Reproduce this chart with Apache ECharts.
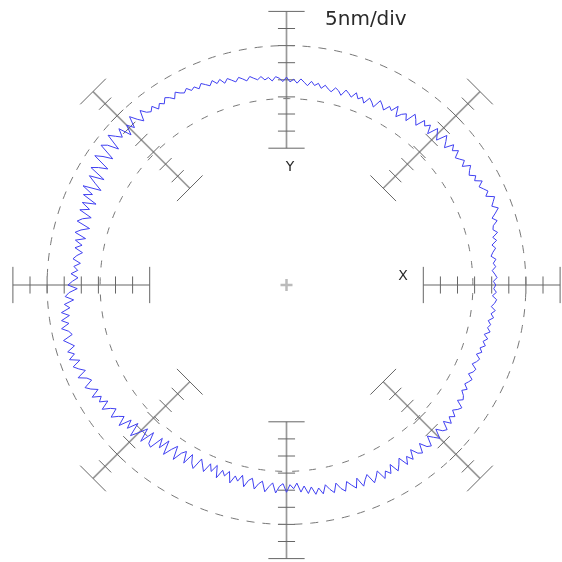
<!DOCTYPE html>
<html>
<head>
<meta charset="utf-8">
<script src="https://cdn.jsdelivr.net/npm/echarts@6/dist/echarts.min.js"></script>
<style>html,body{margin:0;padding:0;background:#fff}#c{width:562px;height:562px}</style>
</head>
<body>
<div id="c"></div>
<script>
// ---- data ----
const scaleLabel = '5nm/div';
const axisNames = ['X', 'Y'];
const centerRadiusNm = 60;              // radius at the centre tick of every scale
const scaleAngles = [0, 45, 90, 135, 180, 225, 270, 315];
const scaleTicks = [40, 45, 50, 55, 60, 65, 70, 75, 80];
const refCircles = [70, 54.5];          // dashed reference circles (nm)
// radial deviation of the profile (nm) from centreRadiusNm, one value per degree (0..359, CCW from +X)
const traceDev = [
  1.2, 0.5, 1.6, 1.0, 0.3, 1.4, 0.8, 1.7, 0.4, 1.1,
  2.1, 1.2, 2.8, 1.9, 3.6, 2.5, 2.9, 4.4, 3.2, 4.6,
  5.9, 4.3, 5.2, 6.1, 3.8, 5.0, 4.1, 3.2, 4.8, 2.9,
  3.9, 2.3, 3.1, 4.2, 2.0, 3.5, 2.6, 1.8, 3.8, 2.4,
  3.8, 1.2, 2.7, 4.1, 1.0, 2.3, 3.6, 0.5, 2.9, 1.6,
  2.8, 0.1, 1.4, 2.5, -0.6, 1.1, 0.2, -1.3, 1.6, -0.5,
  0.3, -1.5, -0.4, 0.5, -2.1, -1.0, -0.2, -2.2, -0.8, -1.7,
  -0.2, -1.9, -1.1, -0.4, -2.3, -1.2, -0.6, -2.0, -1.4, -0.5,
  -1.6, -0.3, -1.1, 0.0, -1.4, -0.5, 0.4, -0.9, 0.2, -0.6,
  0.8, -0.5, 0.5, 1.0, -0.2, 0.9, 0.3, 1.4, 0.6, 1.2,
  1.9, 0.8, 1.6, 2.3, 1.2, 2.0, 2.8, 1.7, 3.2, 2.3,
  3.6, 2.4, 3.2, 4.0, 2.8, 3.9, 3.3, 4.5, 3.6, 4.2,
  5.1, 3.5, 4.6, 5.3, 3.9, 4.8, 3.6, 5.4, 4.3, 5.0,
  6.6, 3.6, 5.2, 7.3, 4.0, 6.1, 3.2, 7.0, 4.6, 6.3,
  8.1, 3.2, 6.4, 7.9, 2.8, 5.5, 7.6, 2.3, 4.8, 6.7,
  1.6, 5.9, 3.4, 0.9, 6.2, 2.6, 5.0, 0.5, 4.4, 1.7,
  4.3, 0.4, 2.7, 4.0, -0.1, 2.2, 3.7, 0.3, 3.1, 0.9,
  2.8, 0.4, 1.9, 2.9, 0.6, 2.4, 1.2, 3.1, 1.0, 2.6,
  3.9, 1.2, 3.6, 4.8, 2.4, 5.2, 3.7, 6.3, 4.1, 6.6,
  4.6, 7.0, 5.1, 4.3, 7.2, 5.8, 4.5, 6.9, 5.2, 7.1,
  4.3, 6.8, 5.5, 3.9, 6.7, 4.4, 3.4, 6.1, 4.8, 3.0,
  5.6, 3.2, 4.5, 2.3, 5.0, 2.9, 1.6, 4.2, 2.4, 1.1,
  3.9, 0.2, 2.6, -0.6, 3.4, 1.0, -1.5, 2.5, -1.9, 1.4,
  1.9, -2.3, 0.4, -2.9, 1.2, -1.3, -3.1, 0.8, -2.0, -3.2,
  0.1, -3.3, -1.0, 0.2, -3.4, -1.9, -0.3, -3.2, -1.2, -3.5,
  0.0, -2.7, -1.3, -3.0, 0.2, -2.2, -0.9, -2.9, 0.3, -1.8,
  -2.6, 0.4, -1.3, -2.2, 0.8, -0.8, -2.0, 0.9, -1.1, -1.9,
  0.6, -1.6, -0.4, -2.0, 0.7, -1.0, 1.3, -0.5, 1.8, 0.1,
  2.0, -0.5, 1.1, 2.3, -0.3, 1.6, 2.7, 0.1, 1.5, 2.8,
  0.1, 3.0, 1.4, 0.2, 3.3, 2.0, 0.5, 3.5, 1.6, 3.0,
  0.6, 3.4, 2.0, 0.4, 3.3, 1.2, 3.0, 0.3, 2.4, 3.2,
  0.5, 2.6, 3.3, 0.4, 1.9, 3.4, 0.7, 2.5, 3.2, 0.8,
  2.9, 1.2, 2.5, 0.8, 1.9, 2.6, 0.3, 1.6, 1.0, -0.2,
  1.0, -0.4, 0.3, 0.9, -0.8, 0.2, 0.6, -1.0, -0.1, 0.5,
  -0.9, 0.4, -0.5, 0.8, -0.2, 0.9, -0.4, 1.1, 0.1, 0.8,
  -0.1, 1.3, 0.4, 1.5, 0.2, 1.1, 1.6, 0.3, 1.4, 0.6
];

// ---- layout ----
const W = 562, H = 562;
const PX_PER_NM = 3.42;
const CX = 286.5, CY = 285;
const xMin = -CX / PX_PER_NM, xMax = (W - CX) / PX_PER_NM;
const yMin = -(H - CY) / PX_PER_NM, yMax = CY / PX_PER_NM;
const END_HALF = 5.3, TICK_HALF = 2.5;   // nm

const rad = d => d * Math.PI / 180;
const tracePts = traceDev.map((d, i) => {
  const r = centerRadiusNm + d;
  return [r * Math.cos(rad(i)), r * Math.sin(rad(i))];
});
tracePts.push(tracePts[0]);

function circlePts(r) {
  const pts = [];
  for (let i = 0; i <= 360; i++) pts.push([r * Math.cos(rad(i)), r * Math.sin(rad(i))]);
  return pts;
}

const chart = echarts.init(document.getElementById('c'), null, {renderer: 'canvas'});
chart.setOption({
  animation: false,
  backgroundColor: '#fff',
  grid: {left: 0, right: 0, top: 0, bottom: 0},
  xAxis: {type: 'value', min: xMin, max: xMax, show: false},
  yAxis: {type: 'value', min: yMin, max: yMax, show: false},
  graphic: [
    {type: 'text', left: 325, top: 10, style: {text: scaleLabel, font: '20px "DejaVu Sans"', fill: '#2a2a2a'}},
    {type: 'text', x: 403, y: 276, style: {text: axisNames[0], font: '14px "DejaVu Sans"', fill: '#2a2a2a', align: 'center', verticalAlign: 'middle'}},
    {type: 'text', x: 290, y: 167, style: {text: axisNames[1], font: '14px "DejaVu Sans"', fill: '#2a2a2a', align: 'center', verticalAlign: 'middle'}}
  ],
  series: [
    {
      type: 'line', data: circlePts(refCircles[0]), showSymbol: false, silent: true,
      lineStyle: {color: '#777', width: 1, type: [8, 8]}
    },
    {
      type: 'line', data: circlePts(refCircles[1]), showSymbol: false, silent: true,
      lineStyle: {color: '#777', width: 1, type: [7, 10]}
    },
    {
      type: 'custom', silent: true,
      data: scaleAngles.map(a => [a]),
      encode: {x: -1, y: -1},
      renderItem: function (params, api) {
        const a = rad(api.value(0));
        const c = Math.cos(a), s = Math.sin(a);
        const p = (r, t) => api.coord([r * c - t * s, r * s + t * c]);
        const r0 = scaleTicks[0], r1 = scaleTicks[scaleTicks.length - 1];
        const children = [];
        const a0 = p(r0, 0), a1 = p(r1, 0);
        children.push({type: 'line', shape: {x1: a0[0], y1: a0[1], x2: a1[0], y2: a1[1]},
          style: {stroke: '#999', lineWidth: 1.7}});
        scaleTicks.forEach((t, i) => {
          const h = (i === 0 || i === scaleTicks.length - 1) ? END_HALF : TICK_HALF;
          const q0 = p(t, -h), q1 = p(t, h);
          children.push({type: 'line', shape: {x1: q0[0], y1: q0[1], x2: q1[0], y2: q1[1]},
            style: {stroke: '#666', lineWidth: 1}});
        });
        return {type: 'group', children: children};
      }
    },
    {
      type: 'custom', silent: true,
      data: [[0, 0]],
      renderItem: function (params, api) {
        const o = api.coord([api.value(0), api.value(1)]);
        return {type: 'group', children: [
          {type: 'line', shape: {x1: o[0] - 6, y1: o[1], x2: o[0] + 6, y2: o[1]}, style: {stroke: '#bbb', lineWidth: 2.5}},
          {type: 'line', shape: {x1: o[0], y1: o[1] - 6, x2: o[0], y2: o[1] + 6}, style: {stroke: '#bbb', lineWidth: 2.5}}
        ]};
      }
    },
    {
      type: 'line', data: tracePts, showSymbol: false, silent: true, smooth: false,
      lineStyle: {color: '#4040f2', width: 1}
    }
  ]
});
</script>
</body>
</html>
